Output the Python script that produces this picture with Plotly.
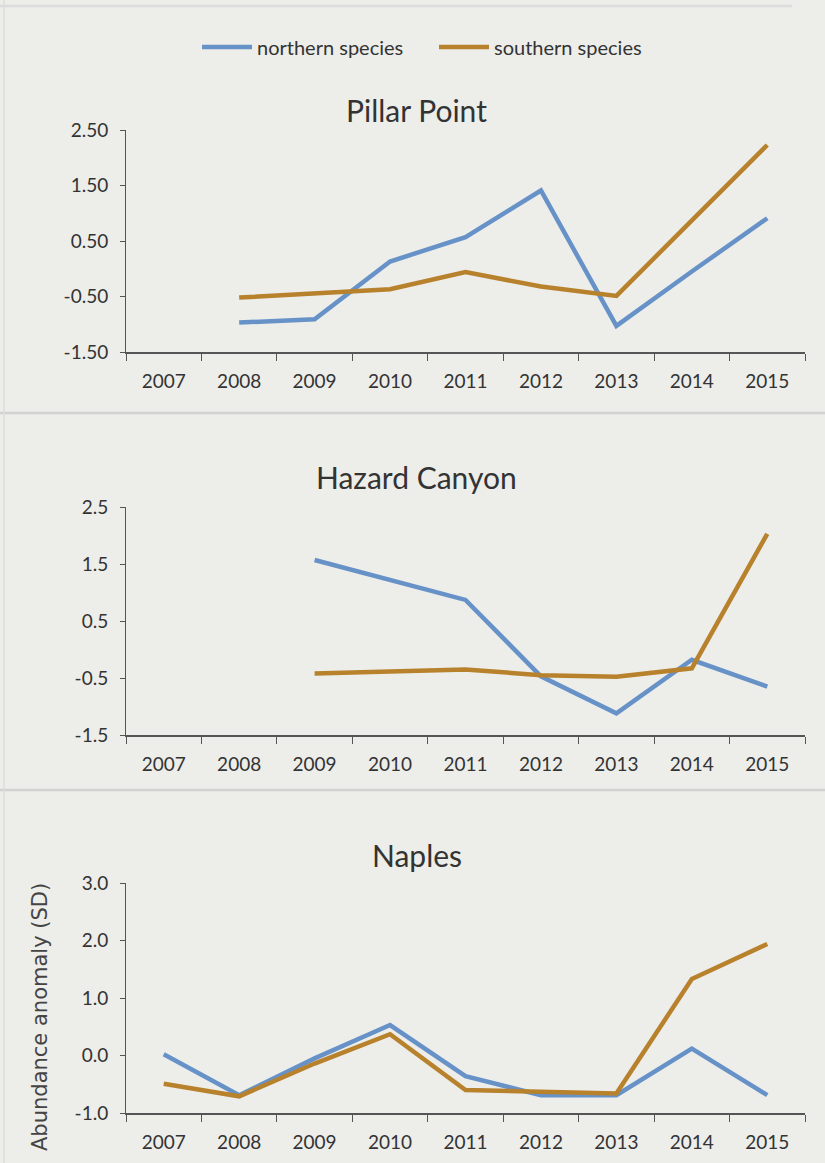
import plotly.graph_objects as go

years = ["2007", "2008", "2009", "2010", "2011", "2012", "2013", "2014", "2015"]

pillar_northern = [None, -0.97, -0.91, 0.13, 0.57, 1.41, -1.03, -0.05, 0.91]
pillar_southern = [None, -0.52, -0.44, -0.37, -0.06, -0.32, -0.49, 0.87, 2.23]

hazard_northern = [None, None, 1.57, 1.22, 0.87, -0.47, -1.12, -0.18, -0.65]
hazard_southern = [None, None, -0.42, -0.39, -0.35, -0.45, -0.48, -0.33, 2.03]

naples_northern = [0.02, -0.69, -0.05, 0.53, -0.36, -0.69, -0.69, 0.12, -0.69]
naples_southern = [-0.49, -0.71, -0.14, 0.37, -0.60, -0.63, -0.66, 1.33, 1.94]

panel_titles = ["Pillar Point", "Hazard Canyon", "Naples"]
pillar_ticks = [-1.5, -0.5, 0.5, 1.5, 2.5]
pillar_ticktext = ["-1.50", "-0.50", "0.50", "1.50", "2.50"]
hazard_ticks = [-1.5, -0.5, 0.5, 1.5, 2.5]
hazard_ticktext = ["-1.5", "-0.5", "0.5", "1.5", "2.5"]
naples_ticks = [-1.0, 0.0, 1.0, 2.0, 3.0]
naples_ticktext = ["-1.0", "0.0", "1.0", "2.0", "3.0"]
series_names = ["northern species", "southern species"]
y_title = "Abundance anomaly (SD)"

W, H = 825, 1163
BLUE = "#6792c8"
ORANGE = "#b8812c"
BG = "#ededea"
AX = "#555555"
FONT = "Lato, 'Open Sans', sans-serif"

def py(px):
    return 1 - px / H

fig = go.Figure()

panels = [
    (pillar_northern, pillar_southern, pillar_ticks, pillar_ticktext, (130, 352)),
    (hazard_northern, hazard_southern, hazard_ticks, hazard_ticktext, (507, 735)),
    (naples_northern, naples_southern, naples_ticks, naples_ticktext, (883, 1113)),
]

title_y = [110, 477, 855]

for i, (north, south, tv, tt, (top, bot)) in enumerate(panels):
    n = i + 1
    xa = "x" if n == 1 else f"x{n}"
    ya = "y" if n == 1 else f"y{n}"
    fig.add_trace(go.Scatter(x=years, y=north, mode="lines", name=series_names[0],
                             line=dict(color=BLUE, width=4.5), xaxis=xa, yaxis=ya,
                             showlegend=(n == 1), connectgaps=False, hoverinfo="skip"))
    fig.add_trace(go.Scatter(x=years, y=south, mode="lines", name=series_names[1],
                             line=dict(color=ORANGE, width=4.5), xaxis=xa, yaxis=ya,
                             showlegend=(n == 1), connectgaps=False, hoverinfo="skip"))
    xkey = "xaxis" if n == 1 else f"xaxis{n}"
    ykey = "yaxis" if n == 1 else f"yaxis{n}"
    fig.update_layout(**{
        xkey: dict(domain=[126 / W, 805 / W], anchor=ya, type="category",
                   categoryorder="array", categoryarray=years,
                   range=[-0.5, 8.5], showgrid=False, zeroline=False,
                   showline=True, linecolor=AX, linewidth=1.5,
                   ticks="outside", tickson="boundaries", ticklen=7, tickcolor=AX,
                   ticklabelstandoff=11, automargin=False,
                   tickfont=dict(size=19, color="#333333", family=FONT),
                   fixedrange=True),
        ykey: dict(domain=[py(bot), py(top)], anchor=xa,
                   range=[tv[0], tv[-1]], tickvals=tv, ticktext=tt,
                   showgrid=False, zeroline=False, showline=True,
                   linecolor=AX, linewidth=1, ticks="outside", ticklen=5,
                   ticklabelstandoff=8, automargin=False,
                   tickcolor=AX, tickfont=dict(size=19, color="#333333", family=FONT),
                   fixedrange=True),
    })
    fig.add_annotation(text=panel_titles[i], xref="paper", yref="paper",
                       x=0.505, y=py(title_y[i]), xanchor="center", yanchor="middle",
                       showarrow=False, font=dict(size=30, color="#333333", family=FONT))

fig.add_annotation(text=y_title, xref="paper", yref="paper", x=40 / W, y=py(1017),
                   xanchor="center", yanchor="middle", textangle=-90, showarrow=False,
                   font=dict(size=21, color="#444444", family="DejaVu Sans"))

shapes = []
for ysep in [413, 790]:
    shapes.append(dict(type="line", xref="paper", yref="paper", x0=0, x1=1,
                       y0=py(ysep), y1=py(ysep), line=dict(color="#d2d2d0", width=2.5)))
shapes.append(dict(type="line", xref="paper", yref="paper", x0=0, x1=0.96,
                   y0=py(6), y1=py(6), line=dict(color="#dcdcda", width=2.5)))
shapes.append(dict(type="line", xref="paper", yref="paper", x0=4 / W, x1=4 / W,
                   y0=0, y1=1, line=dict(color="#dcdcda", width=1.5)))

fig.update_layout(
    width=W, height=H,
    margin=dict(l=0, r=0, t=0, b=0, autoexpand=False),
    paper_bgcolor=BG, plot_bgcolor=BG,
    showlegend=True,
    legend=dict(orientation="h", x=197 / W, y=py(47), xanchor="left", yanchor="middle",
                font=dict(size=20, color="#333333", family=FONT),
                bgcolor="rgba(0,0,0,0)", itemwidth=50, entrywidth=172,
                tracegroupgap=0),
    shapes=shapes,
)

fig.write_html(
    "out.html",
    config={"displayModeBar": False},
    post_script="document.body.style.margin='0';document.body.style.overflow='hidden';"
                "document.body.style.background='#ededea';",
)
